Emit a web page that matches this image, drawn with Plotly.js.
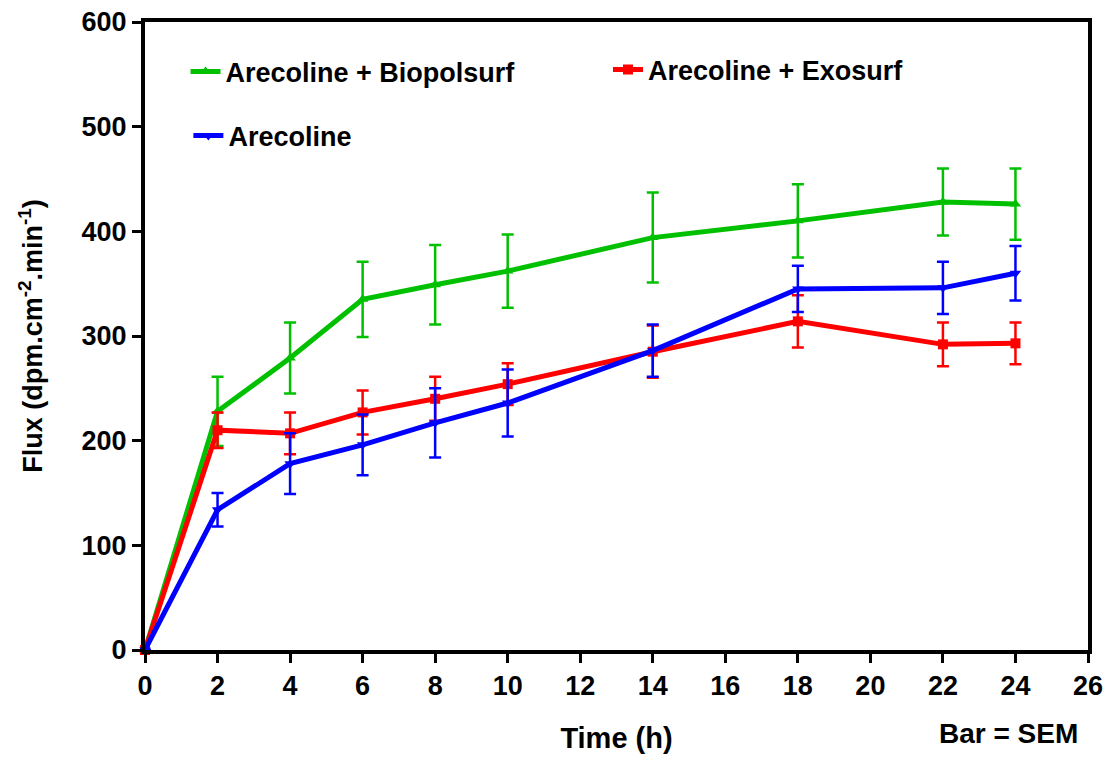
<!DOCTYPE html>
<html>
<head>
<meta charset="utf-8">
<script src="https://cdn.plot.ly/plotly-3.0.1.min.js"></script>
<style>html,body{margin:0;padding:0;background:#fff;}#chart{width:1117px;height:758px;}</style>
</head>
<body>
<div id="chart"></div>
<script>
const timeH = [0, 2, 4, 6, 8, 10, 14, 18, 22, 24];
const biopolsurf = [0, 228, 279, 335, 349, 362, 394, 410, 428, 426];
const biopolsurfSem = [0, 33, 34, 36, 38, 35, 43, 35, 32, 34];
const exosurf = [0, 210, 207, 227, 240, 254, 285, 314, 292, 293];
const exosurfSem = [0, 17, 20, 21, 21, 20, 25, 25, 21, 20];
const arecoline = [0, 134, 178, 196, 217, 236, 286, 345, 346, 360];
const arecolineSem = [0, 16, 29, 29, 33, 32, 25, 22, 25, 26];
const seriesNames = ['Arecoline + Biopolsurf', 'Arecoline + Exosurf', 'Arecoline'];
const xTicks = [0, 2, 4, 6, 8, 10, 12, 14, 16, 18, 20, 22, 24, 26];
const yTicks = [0, 100, 200, 300, 400, 500, 600];

const FONT = 'Liberation Sans, Arial, sans-serif';

function mk(name, y, sem, color, symbol, legendId) {
  return {
    x: timeH, y: y, name: name, type: 'scatter', mode: 'lines+markers',
    legend: legendId, cliponaxis: false,
    line: {color: color, width: 5},
    marker: {color: color, symbol: symbol, size: 10},
    error_y: {type: 'data', array: sem, visible: true, color: color, thickness: 2.5, width: 6}
  };
}

const traces = [
  mk(seriesNames[0], biopolsurf, biopolsurfSem, '#00c000', 'triangle-up', 'legend'),
  mk(seriesNames[1], exosurf, exosurfSem, '#ff0000', 'square', 'legend2'),
  mk(seriesNames[2], arecoline, arecolineSem, '#0000ff', 'triangle-down', 'legend3')
];

const legFont = {family: FONT, size: 27, color: '#000', weight: 700};
function leg(x, y) {
  return {x: x, y: y, xanchor: 'left', yanchor: 'middle', bgcolor: 'rgba(0,0,0,0)', font: legFont, borderwidth: 0};
}

const layout = {
  width: 1117, height: 758,
  margin: {l: 145, r: 29, t: 22, b: 108},
  paper_bgcolor: '#fff', plot_bgcolor: '#fff',
  showlegend: true,
  legend: leg(0.043, (650 - 72) / 628),
  legend2: leg((608 - 145) / 943, (650 - 70) / 628),
  legend3: leg(0.046, (650 - 136) / 628),
  xaxis: {
    range: [0, 26], tickvals: xTicks, ticktext: xTicks.map(String),
    showgrid: false, zeroline: false,
    showline: true, linecolor: '#000', linewidth: 4, mirror: true,
    ticks: 'outside', ticklen: 9, tickwidth: 3, tickcolor: '#000',
    tickfont: {family: FONT, size: 27, color: '#000', weight: 700},
    title: {text: 'Time (h)', font: {family: FONT, size: 29, color: '#000', weight: 700}, standoff: 28}
  },
  yaxis: {
    range: [0, 600], tickvals: yTicks, ticktext: yTicks.map(String),
    showgrid: false, zeroline: false,
    showline: true, linecolor: '#000', linewidth: 4, mirror: true,
    ticks: 'outside', ticklen: 9, tickwidth: 3, tickcolor: '#000',
    tickfont: {family: FONT, size: 27, color: '#000', weight: 700},
    title: {text: 'Flux (dpm.cm<sup>-2</sup>.min<sup>-1</sup>)', font: {family: FONT, size: 27, color: '#000', weight: 700}, standoff: 32}
  },
  annotations: [{
    text: 'Bar = SEM', xref: 'paper', yref: 'paper', x: 1, y: -(733 - 650) / 628,
    xanchor: 'right', yanchor: 'middle', xshift: -8, showarrow: false,
    font: {family: FONT, size: 28, color: '#000', weight: 700}
  }]
};

Plotly.newPlot('chart', traces, layout, {displayModeBar: false, staticPlot: true});
</script>
</body>
</html>
